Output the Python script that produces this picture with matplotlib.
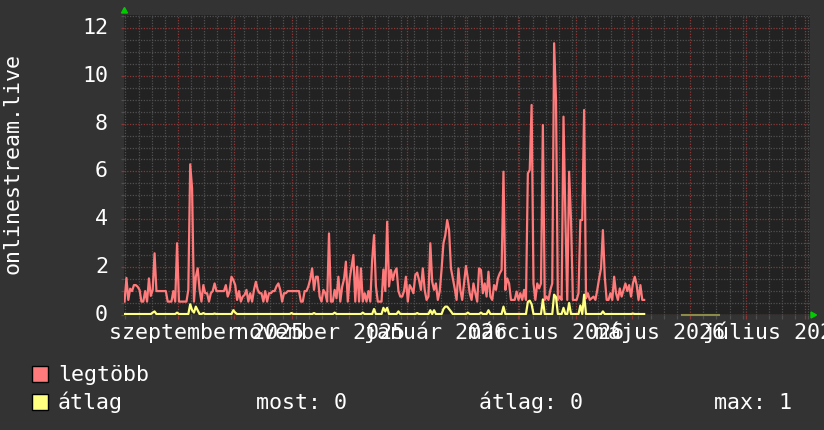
import matplotlib
matplotlib.use("Agg")
import matplotlib.pyplot as plt
import matplotlib.dates as mdates
import matplotlib.transforms as mtrans
from matplotlib.patches import Polygon, Rectangle
from matplotlib.ticker import MultipleLocator
from datetime import datetime, timedelta
import numpy as np

# ---------------- data ----------------
data_start = datetime(2025, 8, 3, 12, 0)
view_start = datetime(2025, 8, 3, 5, 0)
view_days = 365.7

legtobb = [
    0.56, 1.55, 0.63, 1.1, 1.0, 1.25, 1.25, 1.18, 1.05, 0.56,
    0.56, 1.0, 0.56, 1.53, 0.8, 1.05, 2.58, 1.0, 1.0, 1.0,
    1.0, 1.0, 1.0, 0.56, 0.56, 0.56, 1.0, 0.56, 3.0, 0.56,
    0.56, 0.56, 0.56, 0.56, 1.05, 6.3, 5.3, 0.56, 1.6, 1.95,
    1.05, 0.56, 1.25, 0.91, 0.91, 0.56, 0.91, 1.0, 1.32, 1.0,
    1.0, 1.0, 1.0, 1.0, 1.25, 0.77, 1.0, 1.6, 1.46, 1.25,
    0.63, 1.0, 0.56, 0.77, 0.84, 1.05, 0.56, 0.91, 0.56, 1.05,
    1.39, 1.05, 0.91, 0.91, 0.56, 1.0, 0.56, 0.91, 0.91, 1.0,
    1.0, 1.2, 1.32, 1.05, 0.56, 0.91, 0.91, 1.0, 1.0, 1.0,
    1.0, 1.0, 1.0, 1.0, 0.56, 0.56, 1.0, 1.0, 1.2, 1.5,
    1.95, 1.05, 1.6, 1.6, 0.77, 0.56, 1.05, 0.91, 0.56, 3.41,
    0.56, 0.56, 1.05, 0.7, 1.6, 0.56, 1.18, 1.5, 2.23, 0.56,
    1.5, 2.0, 2.51, 0.56, 2.02, 0.56, 1.95, 0.56, 0.91, 0.56,
    1.0, 0.56, 2.3, 3.34, 1.2, 0.56, 0.56, 0.56, 1.9, 1.0,
    3.9, 1.2, 1.88, 1.46, 1.8, 1.95, 1.0, 0.77, 0.77, 1.0,
    1.6, 0.56, 1.25, 1.11, 0.91, 1.67, 1.77, 1.46, 1.05, 1.95,
    1.05, 0.63, 0.77, 3.0, 1.39, 1.05, 1.32, 0.63, 0.98, 1.9,
    3.0, 3.34, 3.97, 3.55, 1.95, 1.53, 1.11, 0.63, 1.95, 1.05,
    0.63, 1.32, 2.05, 1.53, 0.91, 0.63, 1.32, 0.91, 0.56, 1.95,
    1.88, 0.91, 1.32, 0.77, 1.81, 0.77, 0.63, 1.25, 1.05, 1.53,
    1.74, 1.88, 5.99, 1.05, 1.53, 1.32, 0.63, 0.63, 0.63, 0.98,
    0.63, 0.91, 0.63, 1.05, 0.63, 5.92, 6.06, 8.78, 1.32, 0.63,
    1.32, 1.11, 1.32, 7.94, 0.63, 0.77, 0.63, 1.05, 1.32, 11.36,
    8.99, 0.63, 0.77, 0.63, 8.29, 4.11, 0.63, 5.99, 3.97, 0.63,
    0.63, 0.63, 0.91, 3.97, 3.97, 8.57, 0.7, 0.91, 0.63, 0.7,
    0.77, 0.63, 1.05, 1.53, 1.95, 3.55, 1.6, 0.63, 0.63, 0.91,
    0.63, 1.6, 0.91, 0.63, 1.11, 0.77, 1.05, 1.32, 1.0, 1.25,
    0.77, 1.32, 1.6, 1.25, 0.63, 1.25, 0.63, 0.63,
]

atlag = [
    0.04, 0.04, 0.04, 0.04, 0.04, 0.04, 0.04, 0.04, 0.04, 0.04,
    0.04, 0.04, 0.04, 0.04, 0.04, 0.1, 0.15, 0.04, 0.04, 0.04,
    0.04, 0.04, 0.04, 0.04, 0.04, 0.04, 0.04, 0.04, 0.1, 0.04,
    0.04, 0.04, 0.04, 0.04, 0.04, 0.45, 0.2, 0.1, 0.35, 0.2,
    0.04, 0.04, 0.08, 0.04, 0.04, 0.04, 0.04, 0.04, 0.06, 0.04,
    0.04, 0.04, 0.04, 0.04, 0.04, 0.04, 0.04, 0.04, 0.2, 0.1,
    0.04, 0.04, 0.04, 0.04, 0.04, 0.04, 0.04, 0.04, 0.04, 0.04,
    0.04, 0.04, 0.04, 0.04, 0.04, 0.04, 0.04, 0.04, 0.04, 0.04,
    0.04, 0.04, 0.04, 0.04, 0.04, 0.04, 0.04, 0.04, 0.04, 0.08,
    0.04, 0.04, 0.04, 0.04, 0.04, 0.04, 0.04, 0.04, 0.04, 0.04,
    0.04, 0.08, 0.04, 0.04, 0.04, 0.04, 0.04, 0.04, 0.04, 0.04,
    0.04, 0.04, 0.1, 0.04, 0.04, 0.04, 0.04, 0.04, 0.04, 0.04,
    0.04, 0.04, 0.04, 0.04, 0.04, 0.04, 0.04, 0.1, 0.04, 0.04,
    0.04, 0.04, 0.04, 0.25, 0.04, 0.04, 0.04, 0.04, 0.3, 0.15,
    0.3, 0.04, 0.04, 0.04, 0.04, 0.04, 0.15, 0.04, 0.04, 0.04,
    0.04, 0.04, 0.04, 0.04, 0.04, 0.04, 0.08, 0.04, 0.04, 0.04,
    0.04, 0.04, 0.04, 0.2, 0.04, 0.2, 0.04, 0.04, 0.04, 0.04,
    0.25, 0.35, 0.35, 0.25, 0.15, 0.04, 0.04, 0.04, 0.04, 0.04,
    0.04, 0.04, 0.04, 0.1, 0.04, 0.04, 0.04, 0.04, 0.04, 0.04,
    0.1, 0.04, 0.04, 0.04, 0.2, 0.04, 0.04, 0.04, 0.04, 0.04,
    0.04, 0.04, 0.35, 0.04, 0.04, 0.04, 0.04, 0.04, 0.04, 0.04,
    0.04, 0.04, 0.04, 0.04, 0.04, 0.55, 0.6, 0.45, 0.04, 0.04,
    0.04, 0.04, 0.04, 0.65, 0.04, 0.04, 0.04, 0.04, 0.04, 0.85,
    0.75, 0.04, 0.04, 0.04, 0.3, 0.04, 0.04, 0.5, 0.04, 0.04,
    0.04, 0.04, 0.04, 0.4, 0.04, 0.85, 0.04, 0.04, 0.04, 0.04,
    0.04, 0.04, 0.04, 0.04, 0.04, 0.15, 0.04, 0.04, 0.04, 0.04,
    0.04, 0.04, 0.04, 0.04, 0.04, 0.04, 0.04, 0.04, 0.04, 0.04,
    0.04, 0.06, 0.04, 0.04, 0.04, 0.04, 0.04, 0.04,
]

tail_start_day = 297
tail_values = [0, 0, 0, 0, 0, 0, 0, 0, 0, 0, 0, 0, 0, 0, 0, 0, 0, 0, 0, 0, 0]

y_ticks = [0, 2, 4, 6, 8, 10, 12]
month_labels = [
    (2025, 9, "szeptember 2025"),
    (2025, 11, "november 2025"),
    (2026, 1, "január 2026"),
    (2026, 3, "március 2026"),
    (2026, 5, "május 2026"),
    (2026, 7, "július 2026"),
]
y_title = "onlinestream.live"
legend_names = ["legtöbb", "átlag"]
stat_texts = ["most: 0", "átlag: 0", "max: 1"]

# ---------------- style ----------------
W, H = 824, 430
BG = "#333333"
PLOT_BG = "#222222"
RED = "#ff7a7a"
YEL = "#ffff80"
MINOR = "#505050"
MAJOR = "#8a3838"
FONT = "DejaVu Sans Mono"
FS = 15.6

def fx(x):
    return x / W

def fy(y):
    return 1 - y / H

fig = plt.figure(figsize=(W / 100, H / 100), dpi=100, facecolor=BG)
L, R, T, B = 124, 810, 15, 315
ax = fig.add_axes([fx(L), fy(B), (R - L) / W, (B - T) / H])
ax.set_facecolor(PLOT_BG)
for s in ax.spines.values():
    s.set_visible(False)

dates_main = [data_start + timedelta(days=i) for i in range(len(legtobb))]
dates_tail = [data_start + timedelta(days=tail_start_day + i) for i in range(len(tail_values))]

ax.set_xlim(view_start, view_start + timedelta(days=view_days))
ax.set_ylim(0, 12.54)

# grid
ax.yaxis.set_major_locator(MultipleLocator(2))
ax.yaxis.set_minor_locator(MultipleLocator(0.5))
ax.xaxis.set_major_locator(mdates.MonthLocator())
ax.xaxis.set_minor_locator(mdates.WeekdayLocator(byweekday=mdates.MO))
ax.grid(which="minor", color=MINOR, lw=0.9, ls=(0, (1, 1.2)))
ax.grid(which="major", color=MAJOR, lw=0.9, ls=(0, (1, 1.2)))
ax.set_axisbelow(True)
ax.tick_params(which="both", labelbottom=False, labelleft=False, direction="out")
ax.tick_params(axis="x", which="major", length=3, color=MAJOR, width=0.9)
ax.tick_params(axis="x", which="minor", length=3, color=MINOR, width=0.9)
ax.tick_params(axis="y", which="major", length=2, color=MAJOR, width=0.9)
ax.tick_params(axis="y", which="minor", length=2, color=MINOR, width=0.9)

ax.axhline(0, color="#5a5a5a", lw=1.0, zorder=1)

ax.plot(dates_main, legtobb, color=RED, lw=1.6, zorder=3)
ax.plot(dates_main, atlag, color=YEL, lw=1.6, zorder=4)
ax.plot(dates_tail, tail_values, color="#8c8c48", lw=1.5, zorder=4, clip_on=False)

# y tick labels
tr_y = mtrans.blended_transform_factory(fig.transFigure, ax.transData)
for v in y_ticks:
    fig.text(fx(108), 0, str(v), transform=tr_y, ha="right", va="center",
             fontsize=FS, family=FONT, color="white").set_y(v)

# x labels, centred at mid-month
tr_x = mtrans.blended_transform_factory(ax.transData, fig.transFigure)
for yr, mo, lab in month_labels:
    d = mdates.date2num(datetime(yr, mo, 1) + timedelta(days=15))
    ax.text(d, fy(339), lab, transform=tr_x, ha="center", va="baseline",
            fontsize=FS, family=FONT, color="white", clip_on=False)

# y title
fig.text(fx(13), fy(164), y_title, rotation=90, ha="center", va="center",
         fontsize=FS, family=FONT, color="white")

# arrows
fig.patches.append(Polygon([[fx(121.5), fy(13)], [fx(127.5), fy(13)], [fx(124.5), fy(7.5)]],
                           closed=True, transform=fig.transFigure, color="#00cc00"))
fig.patches.append(Polygon([[fx(811), fy(312)], [fx(811), fy(318)], [fx(816.5), fy(315)]],
                           closed=True, transform=fig.transFigure, color="#00cc00"))

# legend
for i, (name, col) in enumerate(zip(legend_names, [RED, YEL])):
    top = 366 + i * 28
    fig.patches.append(Rectangle((fx(32), fy(top + 16)), 16 / W, 16 / H,
                                 transform=fig.transFigure, facecolor=col,
                                 edgecolor="black", lw=1))
    fig.text(fx(58), fy(top + 15), name, ha="left", va="baseline",
             fontsize=FS, family=FONT, color="white")

for x, t in zip([256, 479, 714], stat_texts):
    fig.text(fx(x), fy(409), t, ha="left", va="baseline",
             fontsize=FS, family=FONT, color="white")

fig.savefig("out.png", dpi=100, facecolor=BG)
